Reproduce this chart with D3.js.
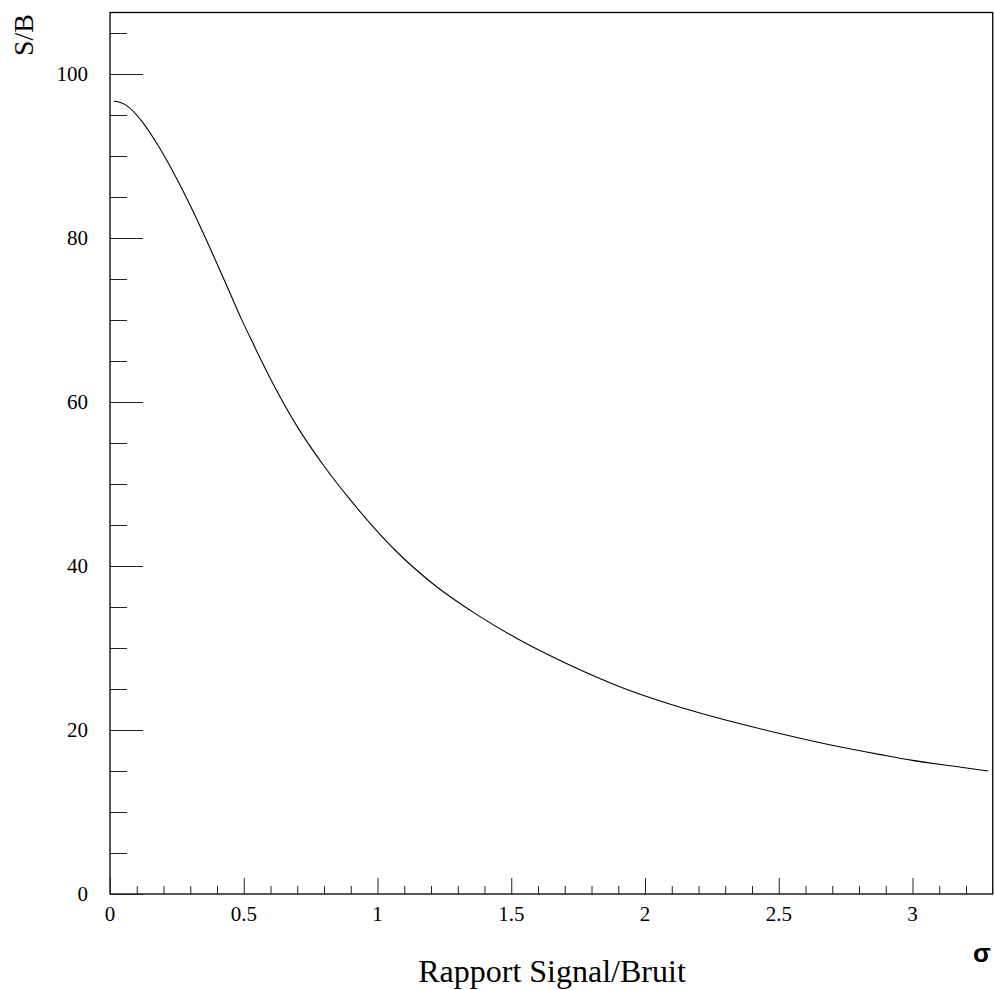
<!DOCTYPE html>
<html>
<head>
<meta charset="utf-8">
<script src="https://cdn.jsdelivr.net/npm/d3@7"></script>
<style>
  html, body { margin: 0; padding: 0; background: #fff; }
  svg { display: block; }
</style>
</head>
<body>
<svg id="chart" width="994" height="990"></svg>
<script>
// ---- data ----
const sigma = [0.015, 0.06, 0.12, 0.185, 0.25, 0.31, 0.375, 0.435, 0.49, 0.525, 0.61, 0.70, 0.80, 0.90, 0.97, 1.07, 1.22, 1.37, 1.53, 1.72, 1.92, 2.17, 2.50, 2.69, 2.88, 3.00, 3.15, 3.283];
const sb    = [96.7, 96.2, 94.2, 91.0, 87.2, 83.3, 78.7, 74.3, 70.2, 67.8, 62.2, 57.0, 52.2, 48.0, 45.3, 41.8, 37.5, 34.1, 31.0, 27.9, 25.1, 22.4, 19.6, 18.2, 17.0, 16.3, 15.6, 15.0];
const xMajorTicks = [0, 0.5, 1, 1.5, 2, 2.5, 3];
const xTickLabels = ["0", "0.5", "1", "1.5", "2", "2.5", "3"];
const yMajorTicks = [0, 20, 40, 60, 80, 100];
const yTickLabels = ["0", "20", "40", "60", "80", "100"];
const xLabel = "Rapport Signal/Bruit";
const xUnit = "σ";
const yLabel = "S/B";

const svg = d3.select("#chart");
const serif = "'Liberation Serif', 'Times New Roman', serif";

const x = d3.scaleLinear().domain([0, 3.3]).range([110, 992.75]);
const y = d3.scaleLinear().domain([0, 107.5]).range([894, 12.5]);

// frame
svg.append("rect")
  .attr("x", x(0)).attr("y", y(107.5))
  .attr("width", x(3.3) - x(0)).attr("height", y(0) - y(107.5))
  .attr("fill", "none").attr("stroke", "#000").attr("stroke-width", 1.3);

// x ticks (inward, upward)
const xMinor = d3.range(0, 33).map(i => i / 10).filter(v => !xMajorTicks.some(m => Math.abs(m - v) < 1e-9));
const gx = svg.append("g").attr("transform", `translate(0,${y(0)})`);
gx.call(d3.axisTop(x).tickValues(xMinor).tickSize(8).tickFormat(""))
  .call(g => g.select(".domain").remove());
gx.call(g => g.append("g").call(d3.axisTop(x).tickValues(xMajorTicks).tickSize(16).tickFormat(""))
  .call(gg => gg.select(".domain").remove()));
gx.selectAll("line").attr("stroke", "#222").attr("stroke-width", 1);

svg.append("g").selectAll("text").data(xMajorTicks).join("text")
  .attr("x", d => x(d)).attr("y", 920.5)
  .attr("text-anchor", "middle")
  .attr("font-family", serif).attr("font-size", 21)
  .text((d, i) => xTickLabels[i]);

// y ticks (inward, rightward)
const yMinor = d3.range(0, 22).map(i => i * 5).filter(v => !yMajorTicks.includes(v));
const gy = svg.append("g").attr("transform", `translate(${x(0)},0)`);
gy.call(d3.axisRight(y).tickValues(yMinor).tickSize(17).tickFormat(""))
  .call(g => g.select(".domain").remove());
gy.call(g => g.append("g").call(d3.axisRight(y).tickValues(yMajorTicks).tickSize(33).tickFormat(""))
  .call(gg => gg.select(".domain").remove()));
gy.selectAll("line").attr("stroke", "#222").attr("stroke-width", 1);

svg.append("g").selectAll("text").data(yMajorTicks).join("text")
  .attr("x", 88).attr("y", d => y(d))
  .attr("dy", "0.35em")
  .attr("text-anchor", "end")
  .attr("font-family", serif).attr("font-size", 21)
  .text((d, i) => yTickLabels[i]);

// curve
const pts = sigma.map((s, i) => [s, sb[i]]);
svg.append("path")
  .datum(pts)
  .attr("fill", "none").attr("stroke", "#000").attr("stroke-width", 1.1)
  .attr("d", d3.line().x(d => x(d[0])).y(d => y(d[1])).curve(d3.curveMonotoneX));

// labels
svg.append("text")
  .attr("x", 552).attr("y", 982)
  .attr("text-anchor", "middle")
  .attr("font-family", serif).attr("font-size", 32)
  .text(xLabel);

svg.append("text")
  .attr("x", 982).attr("y", 962)
  .attr("text-anchor", "middle")
  .attr("font-family", "'Liberation Sans', Arial, sans-serif").attr("font-size", 26)
  .attr("font-weight", "bold")
  .text(xUnit);

svg.append("text")
  .attr("transform", "translate(33,35) rotate(-90)")
  .attr("text-anchor", "middle")
  .attr("font-family", serif).attr("font-size", 28)
  .text(yLabel);
</script>
</body>
</html>
